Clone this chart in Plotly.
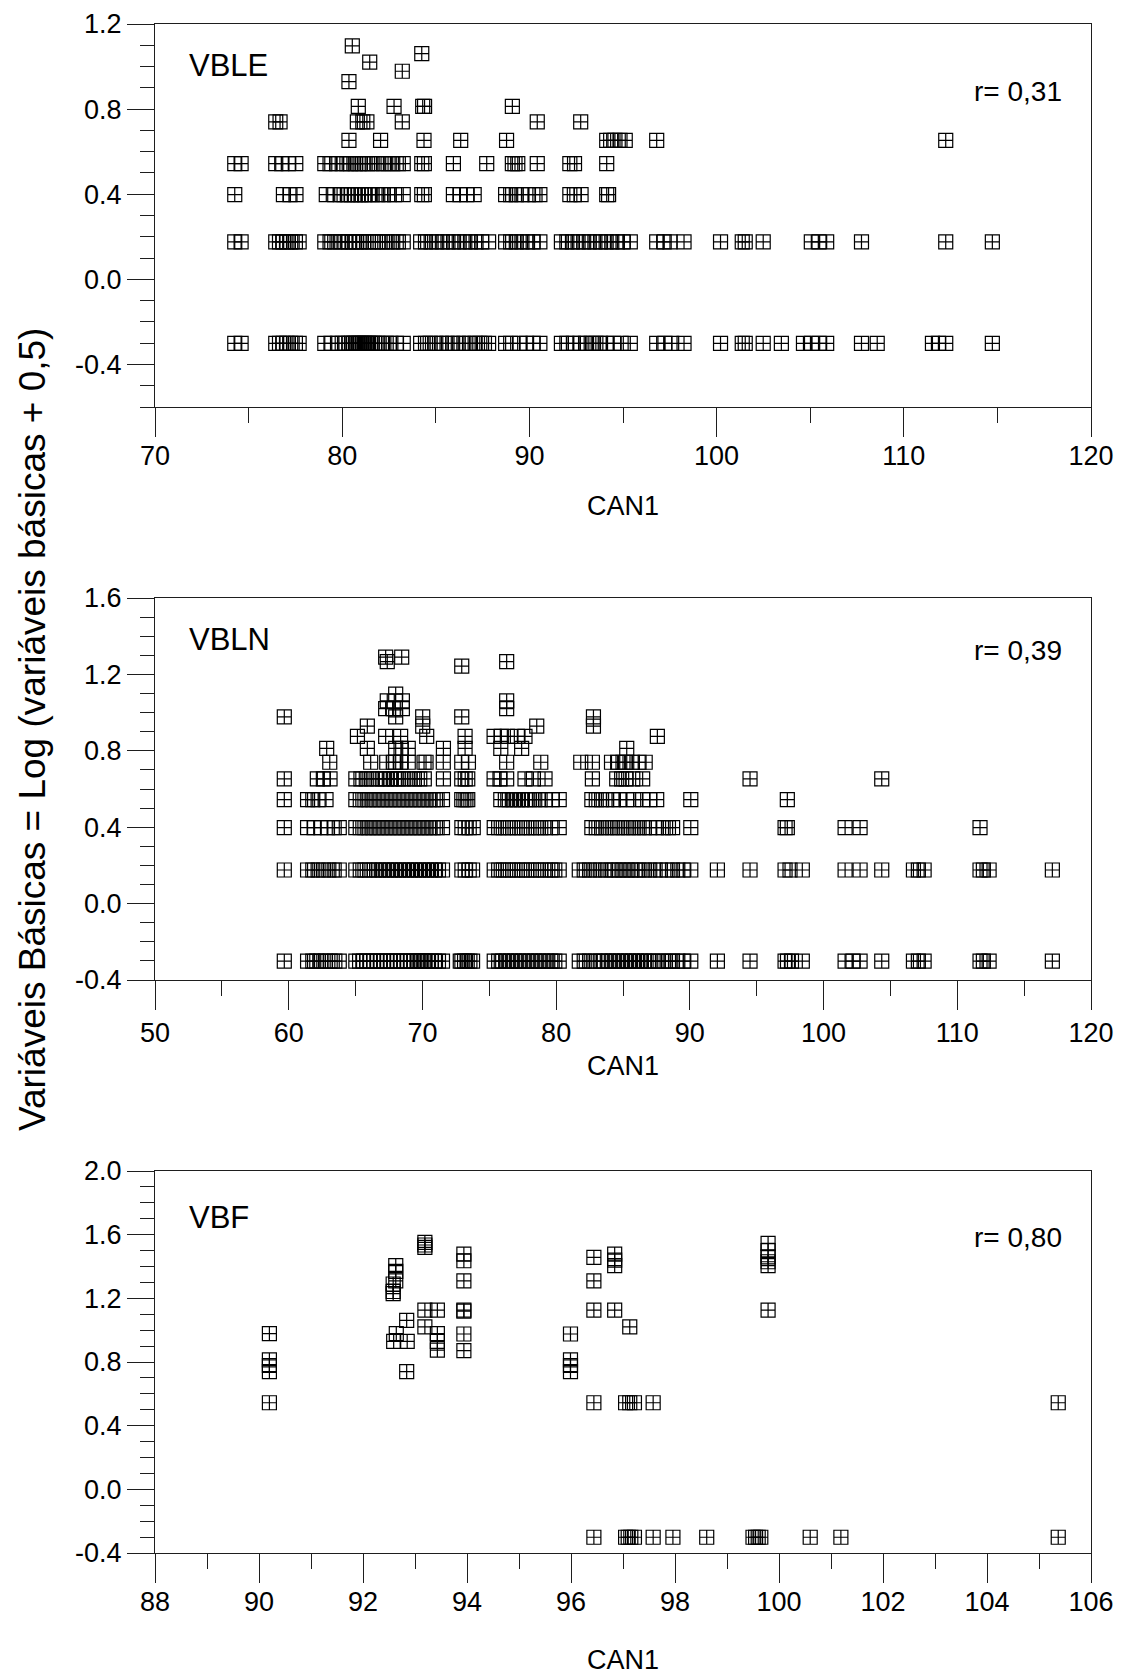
import plotly.graph_objects as go

# ---------------- data ----------------
# Panel VBLE: y levels and CAN1 values of the points on each level
vble_levels = [-0.301, 0.176, 0.398, 0.544, 0.653, 0.740, 0.813, 0.929, 0.978, 1.021, 1.061, 1.097]
vble_can1 = [
    [74.26, 74.60, 76.45, 76.65, 76.85, 77.05, 77.25, 77.5, 77.70, 79.07, 79.4, 79.75, 80.0, 80.2, 80.35,
     80.5, 80.6, 80.7, 80.8, 80.9, 81.0, 81.1, 81.2, 81.3, 81.4, 81.5, 81.6, 81.75, 81.9, 82.1, 82.35, 82.6,
     82.9, 83.26, 84.19, 84.45, 84.7, 85.0, 85.3, 85.6, 85.9, 86.2, 86.5, 86.8, 87.1, 87.35, 87.6, 87.82,
     88.73, 89.0, 89.5, 89.85, 90.2, 90.56, 91.71, 92.0, 92.35, 92.7, 93.0, 93.3, 93.55, 93.8, 94.1, 94.5,
     94.9, 95.39, 96.80, 97.24, 97.60, 98.26, 100.21, 101.37, 101.53, 102.49, 103.46, 104.64, 105.07,
     105.47, 105.88, 107.74, 108.58, 111.53, 111.85, 112.24, 114.73],
    [74.26, 74.60, 76.45, 76.65, 76.85, 77.05, 77.25, 77.5, 77.70, 79.07, 79.35, 79.6, 79.9, 80.15, 80.35,
     80.55, 80.75, 80.95, 81.15, 81.4, 81.65, 81.9, 82.15, 82.4, 82.7, 83.0, 83.26, 84.19, 84.45, 84.75,
     85.05, 85.35, 85.65, 85.95, 86.25, 86.55, 86.85, 87.15, 87.45, 87.82, 88.73, 89.0, 89.3, 89.6, 89.9,
     90.2, 90.56, 91.71, 92.0, 92.3, 92.6, 92.9, 93.2, 93.5, 93.8, 94.1, 94.4, 94.7, 95.0, 95.39, 96.80,
     97.2, 97.51, 98.26, 100.21, 101.37, 101.53, 102.49, 105.06, 105.47, 105.88, 107.74, 112.24, 114.73],
    [74.26, 76.86, 77.21, 77.53, 79.15, 79.6, 79.9, 80.1, 80.3, 80.5, 80.7, 80.85, 81.0, 81.2, 81.4, 81.6,
     81.9, 82.2, 82.5, 82.8, 83.26, 84.25, 84.39, 85.94, 86.29, 86.65, 87.05, 88.73, 89.0, 89.3, 89.6,
     89.95, 90.3, 90.56, 92.16, 92.4, 92.76, 94.13, 94.23],
    [74.26, 74.60, 76.45, 76.77, 77.12, 77.52, 79.07, 79.35, 79.7, 80.0, 80.25, 80.45, 80.7, 80.9, 81.1,
     81.35, 81.6, 81.9, 82.2, 82.45, 82.7, 83.0, 83.26, 84.25, 84.39, 85.94, 87.72, 89.09, 89.23, 89.38,
     90.42, 92.16, 92.41, 94.13],
    [80.36, 82.05, 84.37, 86.33, 88.78, 94.13, 94.34, 94.57, 94.84, 95.12, 96.80, 112.24],
    [76.45, 76.68, 80.81, 81.10, 81.32, 83.21, 90.42, 92.74],
    [80.86, 82.77, 84.30, 84.40, 89.09],
    [80.36],
    [83.21],
    [81.47],
    [84.25],
    [80.54],
]

# Panel VBLN
vbln_levels = [-0.301, 0.176, 0.398, 0.544, 0.653, 0.740, 0.813, 0.875, 0.929, 0.978, 1.021, 1.061,
               1.097, 1.243, 1.267, 1.290]
vbln_can1 = [
    [59.67, 61.41, 61.8, 62.1, 62.4, 62.75, 63.1, 63.45, 63.78, 65.02, 65.3, 65.6, 65.85, 66.1, 66.35,
     66.6, 66.85, 67.1, 67.35, 67.6, 67.85, 68.1, 68.35, 68.6, 68.85, 69.1, 69.35, 69.6, 69.75, 69.9,
     70.05, 70.2, 70.4, 70.65, 70.9, 71.2, 71.5, 72.83, 72.95, 73.15, 73.35, 73.55, 73.75, 75.37, 75.7,
     76.0, 76.3, 76.6, 76.9, 77.2, 77.5, 77.8, 78.1, 78.4, 78.7, 79.0, 79.3, 79.6, 79.9, 80.23, 81.73,
     82.1, 82.5, 82.9, 83.3, 83.6, 83.9, 84.2, 84.5, 84.8, 85.1, 85.4, 85.7, 86.0, 86.3, 86.6, 86.9,
     87.25, 87.6, 88.0, 88.4, 88.7, 89.1, 89.5, 90.07, 92.06, 94.50, 97.12, 97.3, 97.6, 98.41, 101.61,
     102.2, 102.73, 104.35, 106.72, 107.09, 107.52, 111.7, 111.95, 112.38, 117.11],
    [59.67, 61.41, 61.8, 62.2, 62.6, 63.0, 63.4, 63.78, 65.02, 65.35, 65.7, 66.05, 66.4, 66.7, 67.0,
     67.3, 67.6, 67.9, 68.2, 68.5, 68.8, 69.1, 69.4, 69.7, 70.0, 70.3, 70.6, 70.9, 71.2, 71.5, 72.95,
     73.2, 73.5, 73.75, 75.37, 75.7, 76.05, 76.4, 76.75, 77.1, 77.45, 77.8, 78.15, 78.5, 78.85, 79.2,
     79.6, 79.9, 80.23, 81.73, 82.1, 82.5, 82.9, 83.3, 83.7, 84.1, 84.4, 84.7, 85.0, 85.3, 85.6, 85.9,
     86.2, 86.6, 87.0, 87.4, 87.8, 88.3, 88.7, 89.1, 89.5, 90.07, 92.06, 94.50, 97.12, 97.49, 98.41,
     101.61, 102.73, 104.35, 106.72, 107.09, 107.52, 111.7, 111.95, 112.38, 117.11],
    [59.67, 61.41, 61.9, 62.4, 62.9, 63.4, 63.78, 65.02, 65.35, 65.7, 66.0, 66.3, 66.6, 66.9, 67.2, 67.5,
     67.8, 68.1, 68.4, 68.7, 69.0, 69.3, 69.6, 69.9, 70.2, 70.5, 70.8, 71.1, 71.5, 72.95, 73.2, 73.5,
     73.8, 75.37, 75.7, 76.05, 76.4, 76.75, 77.1, 77.45, 77.8, 78.15, 78.5, 78.85, 79.2, 79.6, 80.23,
     82.67, 83.0, 83.4, 83.8, 84.2, 84.6, 85.0, 85.4, 85.8, 86.2, 86.6, 87.0, 87.5, 88.0, 88.4, 88.71,
     90.07, 97.12, 97.29, 101.61, 102.73, 111.7],
    [59.67, 61.41, 61.8, 62.2, 62.79, 65.02, 65.35, 65.7, 66.0, 66.3, 66.6, 66.9, 67.2, 67.5, 67.8, 68.1,
     68.4, 68.7, 69.0, 69.3, 69.6, 69.9, 70.2, 70.5, 70.8, 71.1, 71.5, 72.94, 73.1, 73.25, 73.39, 75.86,
     76.2, 76.5, 76.8, 77.1, 77.4, 77.7, 78.0, 78.4, 78.8, 79.2, 79.7, 80.23, 82.67, 83.0, 83.4, 83.78,
     84.28, 84.7, 85.28, 85.8, 86.47, 87.0, 87.52, 90.07, 97.29],
    [59.67, 62.14, 62.59, 63.09, 65.02, 65.4, 65.8, 66.2, 66.6, 67.0, 67.3, 67.6, 67.9, 68.2, 68.6, 69.0,
     69.4, 69.8, 70.14, 71.57, 72.94, 73.2, 73.39, 75.36, 75.8, 76.30, 77.67, 78.3, 79.17, 82.71, 84.53,
     84.9, 85.23, 85.73, 86.47, 94.50, 104.35],
    [63.07, 66.13, 67.33, 67.82, 68.0, 68.37, 68.94, 70.12, 70.27, 71.56, 72.94, 73.44, 76.30, 78.85,
     81.84, 82.71, 84.14, 84.6, 85.0, 85.28, 85.7, 86.2, 86.66],
    [62.84, 65.88, 68.0, 68.4, 68.94, 71.57, 73.19, 75.86, 77.42, 85.28],
    [65.14, 67.25, 68.37, 70.32, 73.19, 75.36, 75.9, 76.35, 77.1, 77.67, 87.57],
    [65.88, 70.02, 78.55, 82.79],
    [59.67, 68.0, 70.02, 72.94, 82.79],
    [67.25, 67.82, 68.5, 76.30],
    [67.37, 68.5, 76.30],
    [68.0],
    [72.94],
    [67.37, 76.30],
    [67.25, 68.45],
]

# Panel VBF: individual points
vbf_can1 = [90.20, 90.20, 90.20, 90.20, 90.20,
            92.63, 92.63, 92.63, 92.58, 92.58, 92.58, 92.84, 92.64, 92.59, 92.85, 92.84,
            93.19, 93.19, 93.19, 93.19, 93.43, 93.19, 93.43, 93.43, 93.43,
            93.94, 93.94, 93.94, 93.94, 93.94, 93.94, 93.94,
            95.99, 95.99, 95.99, 95.99,
            96.44, 96.44, 96.44, 96.44, 96.44,
            96.84, 96.84, 96.84, 96.84,
            97.13, 97.05, 97.13, 97.22, 97.58,
            97.05, 97.10, 97.15, 97.22, 97.58, 97.96, 98.61, 99.50, 99.55, 99.60, 99.65, 100.60, 101.19,
            105.37,
            99.79, 99.79, 99.79, 99.79, 99.79, 99.79, 105.37]
vbf_vb = [0.978, 0.813, 0.778, 0.740, 0.544,
          1.405, 1.370, 1.310, 1.290, 1.243, 1.230, 1.061, 0.978, 0.929, 0.929, 0.740,
          1.552, 1.535, 1.520, 1.126, 1.126, 1.021, 0.978, 0.929, 0.875,
          1.478, 1.436, 1.310, 1.126, 1.120, 0.976, 0.871,
          0.976, 0.813, 0.778, 0.740,
          1.457, 1.310, 1.126, 0.544, -0.301,
          1.478, 1.440, 1.405, 1.126,
          1.021, 0.544, 0.544, 0.544, 0.544,
          -0.301, -0.301, -0.301, -0.301, -0.301, -0.301, -0.301, -0.301, -0.301, -0.301, -0.301,
          -0.301, -0.301, -0.301,
          1.545, 1.500, 1.460, 1.430, 1.405, 1.126, 0.544]

panel_names = ["VBLE", "VBLN", "VBF"]
r_texts = ["r= 0,31", "r= 0,39", "r= 0,80"]
x_title = "CAN1"
y_title = "Variáveis Básicas = Log (variáveis básicas + 0,5)"

x_ticks = [[70, 80, 90, 100, 110, 120],
           [50, 60, 70, 80, 90, 100, 110, 120],
           [88, 90, 92, 94, 96, 98, 100, 102, 104, 106]]
y_ticks = [[-0.4, 0.0, 0.4, 0.8, 1.2],
           [-0.4, 0.0, 0.4, 0.8, 1.2, 1.6],
           [-0.4, 0.0, 0.4, 0.8, 1.2, 1.6, 2.0]]
y_ticktext = [["-0.4", "0.0", "0.4", "0.8", "1.2"],
              ["-0.4", "0.0", "0.4", "0.8", "1.2", "1.6"],
              ["-0.4", "0.0", "0.4", "0.8", "1.2", "1.6", "2.0"]]


def flatten(levels, rows):
    xs, ys = [], []
    for lev, row in zip(levels, rows):
        for v in row:
            xs.append(v)
            ys.append(lev)
    return xs, ys


# ---------------- figure ----------------
W, H = 1128, 1678
FONT = "Liberation Sans, Arial, Helvetica, sans-serif"

panel_px = [  # (top, bottom) in px
    (24, 407),
    (598, 980),
    (1171, 1553),
]
x_ranges = [[70, 120], [50, 120], [88, 106]]
y_ranges = [[-0.6, 1.2], [-0.4, 1.6], [-0.4, 2.0]]
x_minor = [5, 5, 1]
x_label_standoff = [-4, 0, -4]
x_dom = [155 / W, 1091 / W]

datasets = [flatten(vble_levels, vble_can1), flatten(vbln_levels, vbln_can1), (vbf_can1, vbf_vb)]

fig = go.Figure()
line_col = "#1e1e1e"
for i, (xs, ys) in enumerate(datasets):
    suf = "" if i == 0 else str(i + 1)
    fig.add_trace(go.Scatter(
        x=xs, y=ys, mode="markers", xaxis="x" + suf, yaxis="y" + suf,
        marker=dict(symbol="square-cross-open", size=14, color="black", line=dict(width=1.2, color="black")),
        hoverinfo="x+y", showlegend=False,
    ))
    top, bot = panel_px[i]
    common = dict(showline=True, linecolor=line_col, linewidth=1, mirror=True, ticks="outside",
                  tickcolor=line_col, tickwidth=1, showgrid=False, zeroline=False, automargin=False,
                  tickfont=dict(family=FONT, size=27, color="black"))
    fig.layout["xaxis" + suf] = dict(
        common, domain=x_dom, range=x_ranges[i], anchor="y" + suf,
        tickmode="array", tickvals=x_ticks[i], ticktext=[str(t) for t in x_ticks[i]], ticklen=29,
        ticklabelstandoff=x_label_standoff[i],
        minor=dict(dtick=x_minor[i], tick0=x_ranges[i][0], ticks="outside", ticklen=15, tickwidth=1,
                   tickcolor=line_col, showgrid=False),
    )
    fig.layout["yaxis" + suf] = dict(
        common, domain=[1 - bot / H, 1 - top / H], range=y_ranges[i], anchor="x" + suf,
        tickmode="array", tickvals=y_ticks[i], ticktext=y_ticktext[i], ticklen=27,
        minor=dict(dtick=0.1, tick0=0, ticks="outside", ticklen=14, tickwidth=1,
                   tickcolor=line_col, showgrid=False),
    )

annotations = []
name_y = [65, 640, 1217]
r_y = [92, 650, 1237]
title_y = [506, 1066, 1660]
for i in range(3):
    annotations.append(dict(text=panel_names[i], x=187 / W, y=1 - name_y[i] / H, xref="paper", yref="paper",
                            xanchor="left", yanchor="middle", showarrow=False,
                            font=dict(family=FONT, size=31, color="black")))
    annotations.append(dict(text=r_texts[i], x=1064 / W, y=1 - r_y[i] / H, xref="paper", yref="paper",
                            xanchor="right", yanchor="middle", showarrow=False,
                            font=dict(family=FONT, size=28, color="black")))
    annotations.append(dict(text=x_title, x=623 / W, y=1 - title_y[i] / H, xref="paper", yref="paper",
                            xanchor="center", yanchor="middle", showarrow=False,
                            font=dict(family=FONT, size=27, color="black")))
annotations.append(dict(text=y_title, x=32 / W, y=1 - 730 / H, xref="paper", yref="paper",
                        xanchor="center", yanchor="middle", textangle=-90, showarrow=False,
                        font=dict(family=FONT, size=37, color="black")))

fig.update_layout(
    width=W, height=H, margin=dict(l=0, r=0, t=0, b=0, autoexpand=False),
    paper_bgcolor="white", plot_bgcolor="white", showlegend=False,
    font=dict(family=FONT, color="black"),
    annotations=annotations,
)

fig.write_html("out.html", config={"displayModeBar": False},
               post_script="document.body.style.margin='0';document.body.style.overflow='hidden';")
